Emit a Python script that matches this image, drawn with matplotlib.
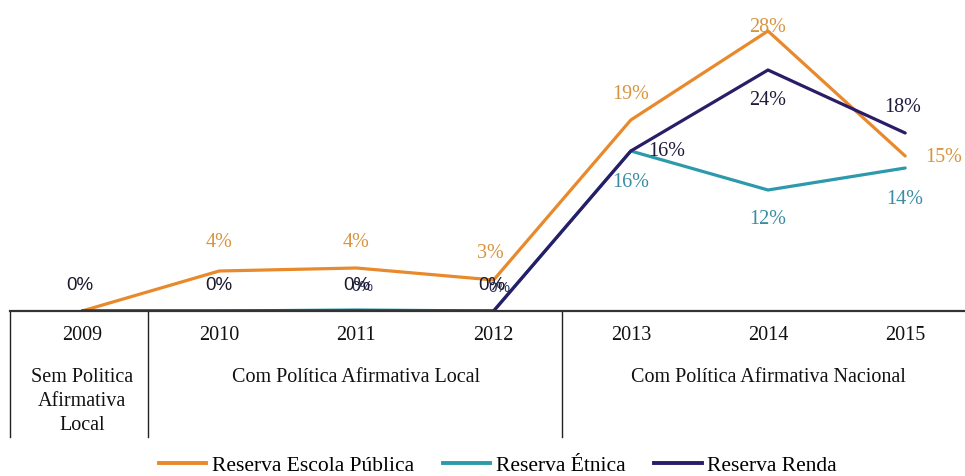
import matplotlib.pyplot as plt

# data
anos = ['2009', '2010', '2011', '2012', '2013', '2014', '2015']
escola_publica = [0, 4.0, 4.3, 3.1, 19.1, 28.0, 15.5]
etnica = [0, 0, 0.1, 0, 16.0, 12.1, 14.3]
renda = [0, 0, 0, 0, 16.0, 24.1, 17.8]
escola_rotulos = ['', '4%', '4%', '3%', '19%', '28%', '15%']
etnica_rotulos = ['', '', '0%', '0%', '16%', '12%', '14%']
renda_rotulos = ['0%', '0%', '0%', '0%', '16%', '24%', '18%']
grupos = ['Com Política Afirmativa Local', 'Com Política Afirmativa Nacional']

LARANJA = '#E8892B'
AZUL = '#2C9AAB'
ROXO = '#2B1C68'
SERIF = ['Liberation Serif', 'DejaVu Serif']
SANS = ['Liberation Sans', 'DejaVu Sans']
FS = 14.5

fig = plt.figure(figsize=(9.65, 4.77), dpi=100)
ax = fig.add_axes([10 / 965, 165 / 477, 955 / 965, 312 / 477])
x = list(range(len(anos)))
ax.set_xlim(-0.525, 6.436)
ax.set_ylim(0, 31.2)
ax.axis('off')

ax.plot(x, escola_publica, color=LARANJA, lw=2.3, solid_capstyle='round', zorder=3)
ax.plot(x, etnica, color=AZUL, lw=2.3, solid_capstyle='round', zorder=3)
ax.plot(x, renda, color=ROXO, lw=2.3, solid_capstyle='round', zorder=4)

# baseline and table grid
ax.plot([-0.525, 6.436], [0, 0], color='#333333', lw=1.6, clip_on=False, zorder=5)
for xv in [-0.525, 0.48, 3.5]:
    ax.plot([xv, xv], [0, -12.6], color='#222222', lw=1.0, clip_on=False)

# data labels (offsets in pixels)
esc_off = [(0, 0), (0, 29), (0, 26), (-3, 27), (0, 26), (0, 4), (38, -1)]
for i, t in enumerate(escola_rotulos):
    if t:
        ax.annotate(t, (x[i], escola_publica[i]), xytext=esc_off[i], textcoords='offset pixels',
                    ha='center', va='center', color='#D8943E', fontsize=FS, family=SERIF)

et_off = [(0, 0), (0, 0), (6, 24), (6, 24), (0, -31), (0, -29), (0, -31)]
for i, t in enumerate(etnica_rotulos):
    if not t:
        continue
    if t == '0%':
        ax.annotate(t, (x[i], etnica[i]), xytext=et_off[i], textcoords='offset pixels',
                    ha='center', va='center', color='#2E3560', fontsize=11, family=SANS)
    else:
        ax.annotate(t, (x[i], etnica[i]), xytext=et_off[i], textcoords='offset pixels',
                    ha='center', va='center', color='#3A8CA5', fontsize=FS, family=SERIF)

ren_off = [(-2, 26), (0, 26), (0, 26), (-2, 26), (36, 0), (0, -30), (-3, 26)]
for i, t in enumerate(renda_rotulos):
    if t == '0%':
        ax.annotate(t, (x[i], renda[i]), xytext=ren_off[i], textcoords='offset pixels',
                    ha='center', va='center', color='#1A1A2E', fontsize=13.5, family=SANS)
    else:
        ax.annotate(t, (x[i], renda[i]), xytext=ren_off[i], textcoords='offset pixels',
                    ha='center', va='center', color='#1E1A3A', fontsize=FS, family=SERIF)

# table text
for i, a in enumerate(anos):
    ax.text(x[i], -2.4, a, ha='center', va='center', fontsize=FS, family=SERIF, color='#111111')
for j, t in enumerate(['Sem Politica', 'Afirmativa', 'Local']):
    ax.text(0, -6.6 - 2.4 * j, t, ha='center', va='center', fontsize=FS, family=SERIF, color='#111111')
ax.text(2, -6.6, grupos[0], ha='center', va='center', fontsize=FS, family=SERIF, color='#111111')
ax.text(5, -6.6, grupos[1], ha='center', va='center', fontsize=FS, family=SERIF, color='#111111')

# legend
h1, = ax.plot([], [], color=LARANJA, lw=2.8)
h2, = ax.plot([], [], color=AZUL, lw=2.8)
h3, = ax.plot([], [], color=ROXO, lw=2.8)
fig.legend([h1, h2, h3], ['Reserva Escola Pública', 'Reserva Étnica', 'Reserva Renda'],
           loc='center', bbox_to_anchor=(0.516, 0.023), ncol=3, frameon=False,
           handlelength=2.2, handletextpad=0.25, columnspacing=1.35,
           prop={'family': SERIF, 'size': 15.5})

fig.savefig('out.png', dpi=100)
